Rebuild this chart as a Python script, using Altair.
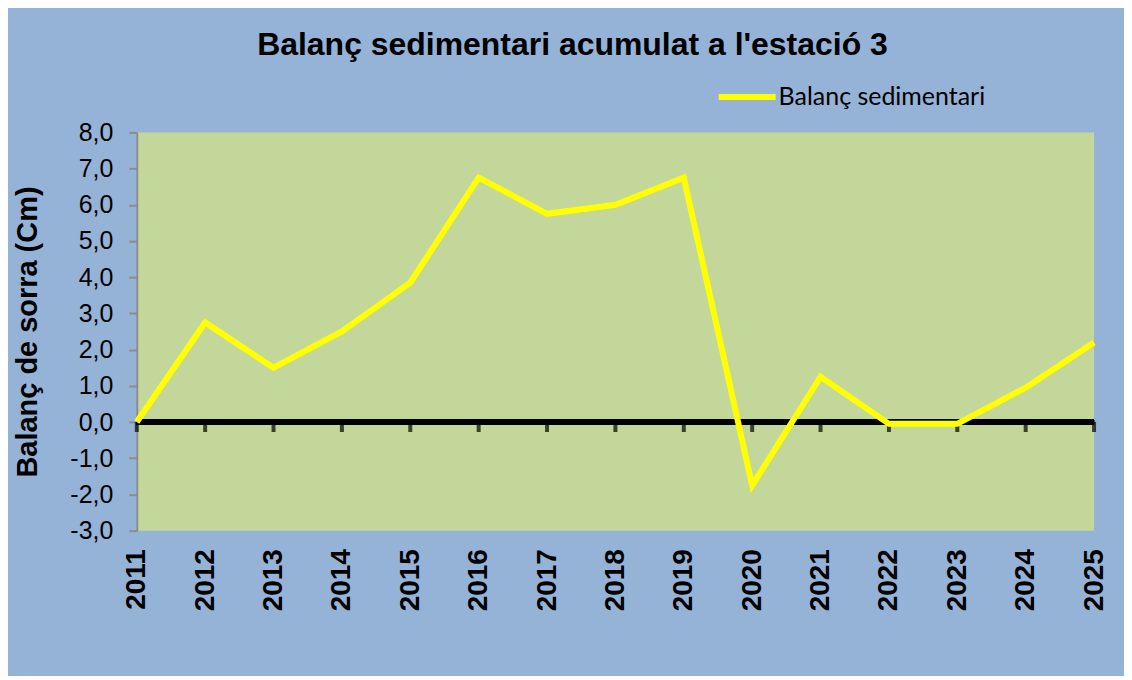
import altair as alt
import pandas as pd

years = list(range(2011, 2026))
balanc = [0.0, 2.75, 1.5, 2.5, 3.85, 6.75, 5.75, 6.0, 6.75, -1.75, 1.25, -0.05, -0.05, 0.95, 2.2]
series_name = "Balanç sedimentari"
y_ticks = [-3, -2, -1, 0, 1, 2, 3, 4, 5, 6, 7, 8]

df = pd.DataFrame({"any": years, "balanc": balanc, "serie": [series_name] * len(years)})

x_scale = alt.Scale(domain=[2011, 2025], nice=False, zero=False)
y_scale = alt.Scale(domain=[-3, 8], nice=False, zero=False)

x_axis = alt.Axis(
    values=years,
    tickCount=20,
    format="d",
    labelAngle=-90,
    labelAlign="right",
    labelBaseline="middle",
    labelFont="Liberation Sans",
    labelFontSize=28,
    labelFontWeight="bold",
    labelColor="black",
    labelPadding=18,
    domain=False,
    ticks=False,
    grid=False,
    title=None,
    labelFlush=False,
    labelOverlap=False,
)

y_axis = alt.Axis(
    values=y_ticks,
    tickCount=20,
    labelExpr="replace(replace(format(datum.value, '.1f'), '.', ','), '\u2212', '-')",
    labelFont="Liberation Sans",
    labelFontSize=25,
    labelColor="black",
    labelPadding=16,
    tickSize=8,
    tickColor="#8C8C8C",
    tickWidth=2,
    domainColor="#8C8C8C",
    domainWidth=2,
    gridColor="#8C8C8C",
    gridWidth=2,
    title="Balanç de sorra (Cm)",
    titleFont="Liberation Sans",
    titleFontSize=29,
    titleFontWeight="bold",
    titleColor="black",
    titlePadding=27,
    labelFlush=False,
    labelOverlap=False,
)

zero_rule = alt.Chart(df).mark_rule(color="black", strokeWidth=5).encode(
    y=alt.Y(datum=0, scale=y_scale, axis=y_axis)
)

ticks = alt.Chart(df).mark_tick(
    color="black", thickness=4, size=10, orient="vertical", yOffset=5
).encode(
    x=alt.X("any:Q", scale=x_scale, axis=x_axis),
    y=alt.Y(datum=0, scale=y_scale, axis=y_axis),
)

line = alt.Chart(df).mark_line(strokeWidth=6, strokeJoin="miter").encode(
    x=alt.X("any:Q", scale=x_scale, axis=x_axis),
    y=alt.Y("balanc:Q", scale=y_scale, axis=y_axis),
    color=alt.Color(
        "serie:N",
        scale=alt.Scale(range=["#FFFF00"]),
        legend=alt.Legend(
            title=None,
            orient="none",
            legendX=580,
            legendY=-67,
            padding=0,
            symbolType="stroke",
            symbolSize=3249,
            symbolStrokeWidth=6,
            labelFont="Lato",
            labelFontSize=25,
            labelColor="black",
            labelLimit=400,
            labelOffset=0,
        ),
    ),
)

chart = (
    alt.layer(zero_rule, ticks, line)
    .properties(
        width=959,
        height=399,
        title=alt.TitleParams(
            "Balanç sedimentari acumulat a l'estació 3",
            font="Liberation Sans",
            fontSize=32,
            fontWeight="bold",
            color="black",
            anchor="middle",
            frame="group",
            baseline="alphabetic",
            offset=9,
            dy=30,
            dx=-43,
        ),
        autosize=alt.AutoSizeParams(type="none"),
        padding={"left": 129, "top": 124, "right": 30, "bottom": 145},
        background="#95B3D7",
    )
    .configure_view(fill="#C4D79B", strokeWidth=0)
)

chart.save("out.html", embed_options={"renderer": "svg", "actions": False})
